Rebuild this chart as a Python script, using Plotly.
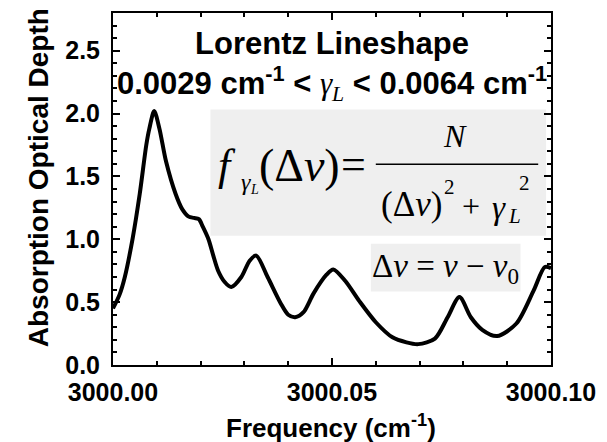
import plotly.graph_objects as go

# ---- data ----
freq_offset = [0.0000, 0.0015, 0.0027, 0.0045, 0.0061, 0.0076, 0.0083, 0.0094, 0.0106,
               0.0121, 0.0143, 0.0158, 0.0173, 0.0185, 0.0196, 0.0205, 0.0218, 0.0229,
               0.0240, 0.0255, 0.0270, 0.0293, 0.0312, 0.0327, 0.0353, 0.0383, 0.0400,
               0.0416, 0.0435, 0.0458, 0.0488, 0.0503, 0.0530, 0.0562, 0.0600, 0.0638,
               0.0670, 0.0697, 0.0735, 0.0764, 0.0791, 0.0817, 0.0843, 0.0877, 0.0921,
               0.0960, 0.0986, 0.1000]
optical_depth = [0.45, 0.56, 0.70, 1.01, 1.36, 1.75, 1.88, 2.02, 1.88,
                 1.62, 1.36, 1.24, 1.18, 1.17, 1.16, 1.10, 1.00, 0.87,
                 0.75, 0.66, 0.62, 0.70, 0.83, 0.87, 0.70, 0.49, 0.40,
                 0.38, 0.42, 0.57, 0.72, 0.76, 0.67, 0.51, 0.34, 0.22,
                 0.18, 0.166, 0.21, 0.38, 0.54, 0.38, 0.28, 0.23, 0.33,
                 0.59, 0.78, 0.77]
freq_base = 3000.0
frequency = [freq_base + d for d in freq_offset]

x_tickvals = [3000.00, 3000.05, 3000.10]
x_ticktext = ["3000.00", "3000.05", "3000.10"]
y_tickvals = [0.0, 0.5, 1.0, 1.5, 2.0, 2.5]
y_ticktext = ["0.0", "0.5", "1.0", "1.5", "2.0", "2.5"]

# ---- layout helpers (pixel -> paper) ----
W, H = 607, 442
PL, PR, PT, PB = 113, 558, 11, 365


def px(x):
    return (x - PL) / (PR - PL)


def py(y):
    return (PB - y) / (PB - PT)


SANS = "Liberation Sans, Arial, sans-serif"
SERIF = "Liberation Serif, Times New Roman, serif"

fig = go.Figure()
fig.add_trace(go.Scatter(x=frequency, y=optical_depth, mode="lines",
                         line=dict(color="black", width=4, shape="spline", smoothing=0.8),
                         hoverinfo="skip", showlegend=False))

axis_common = dict(showline=True, linecolor="black", linewidth=2, mirror="ticks",
                   ticks="inside", ticklen=7, tickwidth=2, tickcolor="black",
                   showgrid=False, zeroline=False,
                   tickfont=dict(family=SANS, size=25, color="black", weight="bold"))

fig.update_xaxes(range=[3000.0, 3000.1], tickvals=x_tickvals, ticktext=x_ticktext,
                 minor=dict(dtick=0.01, ticks="inside", ticklen=4, tickwidth=1.5, tickcolor="black"),
                 ticklabelstandoff=4, **axis_common)
fig.update_yaxes(range=[0, 2.8], tickvals=y_tickvals, ticktext=y_ticktext,
                 minor=dict(dtick=0.1, ticks="inside", ticklen=4, tickwidth=1.5, tickcolor="black"),
                 ticklabelstandoff=6, **axis_common)

shapes = [
    dict(type="rect", xref="paper", yref="paper", x0=px(212), x1=px(553), y0=py(235), y1=py(108),
         fillcolor="#efefef", line=dict(width=0), layer="below"),
    dict(type="rect", xref="paper", yref="paper", x0=px(375), x1=px(527), y0=py(291), y1=py(243),
         fillcolor="#efefef", line=dict(width=0), layer="below"),
    dict(type="line", xref="paper", yref="paper", x0=px(380), x1=px(545), y0=py(163), y1=py(163),
         line=dict(color="black", width=1.5)),
]


def ann(x, y, text, size, family=SANS, xanchor="center", weight="normal"):
    return dict(x=px(x), y=py(y), xref="paper", yref="paper", text=text, showarrow=False,
                xanchor=xanchor, yanchor="middle",
                font=dict(family=family, size=size, color="black", weight=weight))


annotations = [
    ann(335, 64, "<b>Lorentz Lineshape</b><br><b>0.0029 cm<sup>-1</sup> &lt; </b>"
                 "<span style='font-family:Liberation Serif'><i>γ</i><sub><i>L</i></sub></span>"
                 "<b> &lt; 0.0064 cm<sup>-1</sup></b>", 31),
    ann(334, 427, "<b>Frequency (cm<sup>-1</sup>)</b>", 26),
    # formula 1
    ann(229, 164, "<i>f</i>", 44, SERIF),
    ann(248, 181, "<i>γ</i>", 24, SERIF),
    ann(257, 188, "<i>L</i>", 14, SERIF),
    ann(302, 164, "(Δ<i>ν</i>)", 46, SERIF),
    ann(357, 163, "=", 44, SERIF),
    ann(460, 135, "<i>N</i>", 32, SERIF),
    ann(416, 204, "(Δ<i>ν</i>)", 35, SERIF),
    ann(455, 186, "2", 21, SERIF),
    ann(477, 205, "+", 32, SERIF),
    ann(505, 207, "<i>γ</i>", 33, SERIF),
    ann(521, 215, "<i>L</i>", 21, SERIF),
    ann(531, 182, "2", 21, SERIF),
    # formula 2
    ann(451, 268, "Δ<i>ν</i> = <i>ν</i> − <i>ν</i><sub>0</sub>", 33, SERIF),
]
annotations.append(dict(x=px(37), y=py(177), xref="paper", yref="paper",
                        text="<b>Absorption Optical Depth</b>", showarrow=False, textangle=-90,
                        xanchor="center", yanchor="middle",
                        font=dict(family=SANS, size=28, color="black")))

fig.update_layout(width=W, height=H, margin=dict(l=PL, r=W - PR, t=PT, b=H - PB, pad=0),
                  paper_bgcolor="white", plot_bgcolor="white",
                  shapes=shapes, annotations=annotations, showlegend=False)

fig.write_html("out.html")
